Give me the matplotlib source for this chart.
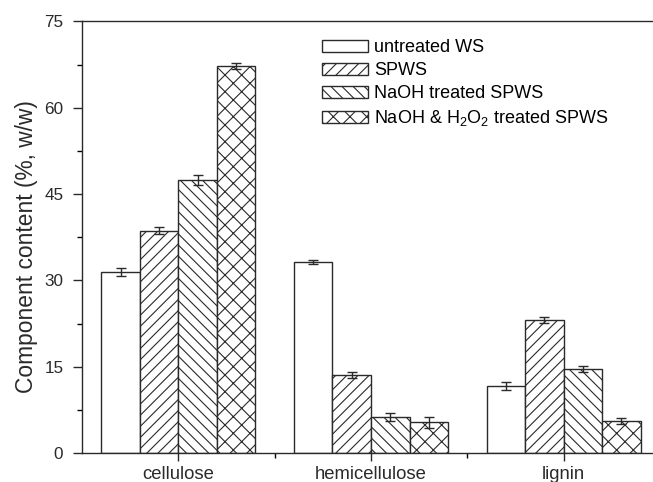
import matplotlib
matplotlib.use("Agg")
import matplotlib.pyplot as plt
import numpy as np

plt.rcParams['font.family'] = ['Liberation Sans', 'DejaVu Sans']
plt.rcParams['mathtext.default'] = 'regular'
plt.rcParams['hatch.linewidth'] = 0.8

categories = ["cellulose", "hemicellulose", "lignin"]
series = ["untreated WS", "SPWS", "NaOH treated SPWS", "NaOH & H$_2$O$_2$ treated SPWS"]
untreated = [31.5, 33.2, 11.6]
spws = [38.6, 13.5, 23.1]
naoh = [47.5, 6.3, 14.6]
naoh_h2o2 = [67.2, 5.3, 5.6]
err_untreated = [0.7, 0.4, 0.7]
err_spws = [0.6, 0.5, 0.5]
err_naoh = [0.9, 0.7, 0.5]
err_naoh_h2o2 = [0.5, 1.0, 0.5]

values = [untreated, spws, naoh, naoh_h2o2]
errors = [err_untreated, err_spws, err_naoh, err_naoh_h2o2]
hatches = ["", "///", "\\\\\\", "xx"]

fig = plt.figure(figsize=(6.53, 4.82), dpi=100)
ax = fig.add_axes([0.1256, 0.0602, 0.8851, 0.8952])

x = np.arange(len(categories))
w = 0.2
for i, (vals, errs, h, lab) in enumerate(zip(values, errors, hatches, series)):
    ax.bar(x + (i - 1.5) * w, vals, w, yerr=errs, color='white', edgecolor='#2a2a2a',
           linewidth=1.0, hatch=h, label=lab,
           error_kw=dict(ecolor='#2a2a2a', elinewidth=1.0, capsize=3.5, capthick=1.0))

ax.set_xlim(-0.5, 2.5)
ax.set_ylim(0, 75)
ax.set_yticks([0, 15, 30, 45, 60, 75])
ax.set_yticks(np.arange(7.5, 75, 15), minor=True)
ax.set_xticks(x)
ax.set_xticklabels(categories)
ax.set_xticks([0.5, 1.5], minor=True)
ax.tick_params(axis='both', which='major', direction='out', length=6.5, width=1.0,
               colors='#2a2a2a')
ax.tick_params(axis='y', which='major', labelsize=12.3, pad=7)
ax.tick_params(axis='x', which='major', labelsize=13.3, pad=4, length=5.5)
ax.tick_params(axis='both', which='minor', direction='out', length=3.6, width=1.0)
for s in ax.spines.values():
    s.set_linewidth(1.0)
    s.set_color('#2a2a2a')
ax.set_ylabel("Component content (%, w/w)", fontsize=16.4, color='#2a2a2a')
ax.yaxis.set_label_coords(-0.076, 0.479)

leg = ax.legend(loc='upper left', bbox_to_anchor=(0.39, 0.992), frameon=False,
                fontsize=13, handlelength=2.55, handleheight=0.68, labelspacing=0.33,
                handletextpad=0.33, borderpad=0.3)

fig.savefig("out.png", dpi=100)
